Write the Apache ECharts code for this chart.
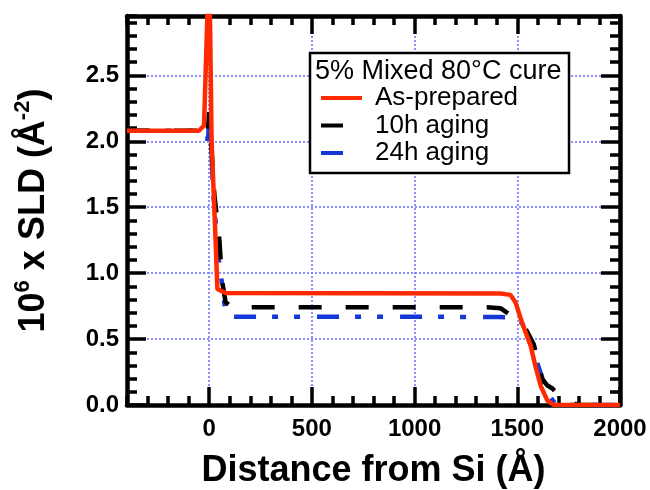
<!doctype html>
<html>
<head>
<meta charset="utf-8"/>
<title>SLD profile</title>
<script src="https://cdn.jsdelivr.net/npm/echarts@6/dist/echarts.min.js"></script>
<style>
*{margin:0;padding:0;}
body{background:#ffffff;}
#main{width:650px;height:490px;}
</style>
</head>
<body>
<div id="main"></div>
<script type="text/javascript">

// profile values (x in Angstrom, y in 1e-6 A^-2)
var redX   = [-400, -50, -25, 0, 12, 30, 40, 80, 1418, 1467, 1491, 1524, 1565, 1589, 1614, 1646, 1677, 2000];
var redY   = [2.08, 2.08, 2.12, 3.4, 2.0, 1.3, 0.88, 0.85, 0.846, 0.835, 0.78, 0.62, 0.45, 0.29, 0.145, 0.035, 0.0, 0.0];

var blackX = [-400, -40, -10, 0, 25, 50, 62, 80, 110, 1353, 1418, 1459, 1500, 1540, 1580, 1600, 1620, 1645, 1671, 1711, 1760, 1800, 2000];
var blackY = [2.08, 2.08, 2.02, 2.22, 1.6, 1.25, 0.95, 0.78, 0.742, 0.742, 0.734, 0.69, 0.64, 0.58, 0.46, 0.34, 0.2, 0.15, 0.125, 0.06, 0.018, 0.0, 0.0];

var blueX  = [-400, -40, -20, -5, 2, 20, 50, 65, 80, 100, 1408, 1460, 1500, 1524, 1560, 1597, 1630, 1660, 1690, 2000];
var blueY  = [2.08, 2.08, 2.02, 2.02, 2.25, 1.6, 1.05, 0.9, 0.69, 0.67, 0.668, 0.665, 0.645, 0.62, 0.48, 0.32, 0.165, 0.06, 0.0, 0.0];

var xMajor = [0, 500, 1000, 1500, 2000];
var yMajor = [0, 0.5, 1.0, 1.5, 2.0, 2.5];
var legendTitle = '5% Mixed 80°C cure';
var names = ['As-prepared', '10h aging', '24h aging'];

function zip(xs, ys) {
  return xs.map(function (x, i) { return [x, ys[i]]; });
}

var FONT = '"Liberation Sans", Arial, Helvetica, sans-serif';
var gridLine = { show: true, lineStyle: { color: '#7373ff', width: 1.6, type: [2, 2] } };
var axisLn = { show: true, onZero: false, lineStyle: { color: '#000', width: 4.5 } };
var noLine = { show: false, onZero: false };

function minorX(pos) {
  return {
    type: 'value', position: pos, min: -400, max: 2000, interval: 100,
    axisLine: axisLn,
    axisTick: { show: true, inside: true, length: 9, lineStyle: { color: '#000', width: 3.5 } },
    axisLabel: { show: false }, splitLine: { show: false }
  };
}
function majorX(pos, labels) {
  return {
    type: 'value', position: pos, min: -400, max: 2000,
    axisLine: noLine,
    axisTick: { show: true, inside: true, length: 18, customValues: xMajor, lineStyle: { color: '#000', width: 3.5 } },
    axisLabel: { show: labels, customValues: xMajor, margin: 12, color: '#000', fontSize: 24, fontWeight: 'bold', fontFamily: FONT,
      formatter: function (v) { return String(v); } },
    splitLine: labels ? gridLine : { show: false }
  };
}
function minorY(pos) {
  return {
    type: 'value', position: pos, min: 0, max: 2.95, interval: 0.1,
    axisLine: axisLn,
    axisTick: { show: true, inside: true, length: 10, lineStyle: { color: '#000', width: 3.5 } },
    axisLabel: { show: false }, splitLine: { show: false }
  };
}
function majorY(pos, labels) {
  return {
    type: 'value', position: pos, min: 0, max: 2.95,
    axisLine: noLine,
    axisTick: { show: true, inside: true, length: 19, customValues: yMajor, lineStyle: { color: '#000', width: 3.5 } },
    axisLabel: { show: labels, customValues: yMajor, margin: 8, color: '#000', fontSize: 24, fontWeight: 'bold', fontFamily: FONT,
      formatter: function (v) { return v.toFixed(1); } },
    splitLine: labels ? gridLine : { show: false }
  };
}

var xBottom = majorX('bottom', true);
xBottom.name = 'Distance from Si (Å)';
xBottom.nameLocation = 'middle';
xBottom.nameGap = 48;
xBottom.nameTextStyle = { color: '#000', fontSize: 36, fontWeight: 'bold', fontFamily: FONT };

var yLeft = majorY('left', true);
yLeft.name = '10{sup|6} x SLD (Å{sup|-2})';
yLeft.nameLocation = 'middle';
yLeft.nameGap = 71;
yLeft.nameTextStyle = { color: '#000', fontSize: 36, fontWeight: 'bold', fontFamily: FONT,
  rich: { sup: { color: '#000', fontSize: 22, fontWeight: 'bold', fontFamily: FONT, padding: [0, 0, 22, 0] } } };

// legend keys: a solid bar, the short ones padded to full width by an empty subpath
var longKey = 'path://M0 0H41V4H0Z';
var shortKey = 'path://M0 0H22V4H0Z M41 0L41 4';

var chart = echarts.init(document.getElementById('main'), null, { renderer: 'canvas' });

var option = {
  animation: false,
  backgroundColor: '#ffffff',
  grid: { left: 127, right: 30, top: 16, bottom: 85, containLabel: false, outerBoundsMode: 'none' },
  xAxis: [minorX('bottom'), xBottom, minorX('top'), majorX('top', false)],
  yAxis: [minorY('left'), yLeft, minorY('right'), majorY('right', false)],
  legend: {
    orient: 'vertical', left: 321, top: 85, z: 10, padding: 0,
    itemWidth: 41, itemHeight: 4, itemGap: 1.5,
    textStyle: { color: '#000', fontSize: 26, fontFamily: FONT, lineHeight: 24, padding: [0, 0, 0, 8] },
    data: [
      { name: names[0], icon: longKey },
      { name: names[1], icon: shortKey },
      { name: names[2], icon: shortKey }
    ]
  },
  graphic: [
    { type: 'rect', z: 5, shape: { x: 310, y: 53, width: 259, height: 120 },
      style: { fill: '#fff', stroke: '#000', lineWidth: 2.5 } },
    { type: 'text', z: 6, x: 315, y: 72,
      style: { text: legendTitle, fill: '#000', font: '27px ' + FONT, verticalAlign: 'middle' } }
  ],
  series: [
    { name: names[2], type: 'line', xAxisIndex: 0, yAxisIndex: 0, symbol: 'none', z: 3,
      lineStyle: { color: '#1438d8', width: 4.5, type: [22, 16, 6, 16, 6, 17], cap: 'butt' },
      itemStyle: { color: '#1438d8' },
      data: zip(blueX, blueY) },
    { name: names[1], type: 'line', xAxisIndex: 0, yAxisIndex: 0, symbol: 'none', z: 3,
      lineStyle: { color: '#000', width: 4.5, type: [23, 24], cap: 'butt' },
      itemStyle: { color: '#000' },
      data: zip(blackX, blackY) },
    { name: names[0], type: 'line', xAxisIndex: 0, yAxisIndex: 0, symbol: 'none', z: 3,
      lineStyle: { color: '#ff2a00', width: 4.5 },
      itemStyle: { color: '#ff2a00' },
      data: zip(redX, redY) }
  ]
};

chart.setOption(option);
</script>
</body>
</html>
